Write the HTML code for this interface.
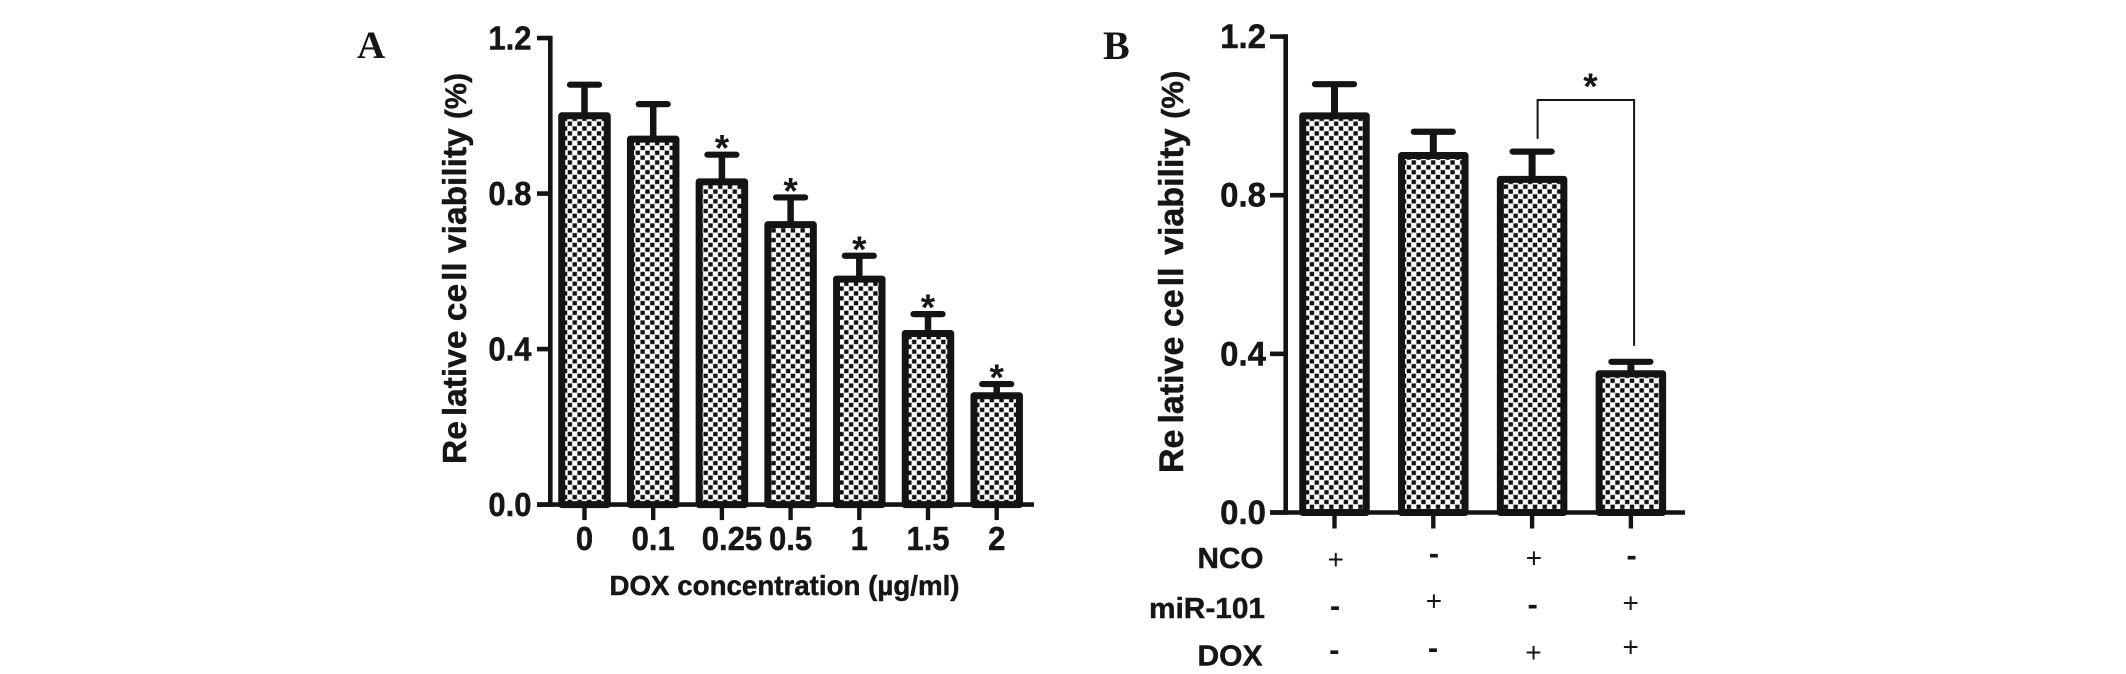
<!DOCTYPE html>
<html lang="en">
<head>
<meta charset="utf-8">
<title>Relative cell viability charts</title>
<style>
html,body{margin:0;padding:0;background:#fff;width:2126px;height:674px;overflow:hidden}
svg{display:block;filter:blur(.35px)}
text{font-family:"Liberation Sans",sans-serif;fill:#161616}
.b{font-weight:700}
.heavy{font-weight:700;stroke:#161616;stroke-width:.45px}
</style>
</head>
<body>
<svg id="figure" xmlns="http://www.w3.org/2000/svg" width="2126" height="674" viewBox="0 0 2126 674">
  <defs>
    <pattern id="checker" patternUnits="userSpaceOnUse" width="9.7" height="9.7">
      <rect width="9.7" height="9.7" fill="#fff"/>
      <rect x="0.25" y="0.25" width="4.35" height="4.35" fill="#111"/>
      <rect x="5.1" y="5.1" width="4.35" height="4.35" fill="#111"/>
    </pattern>
  </defs>
  <rect width="2126" height="674" fill="#fff"/>
  <text x="357" y="58" style="font-family:'Liberation Serif',serif;font-weight:700;font-size:39px">A</text>
  <text x="1103" y="59" style="font-family:'Liberation Serif',serif;font-weight:700;font-size:40px">B</text>
  <g id="panelA"></g>
  <g id="panelB"></g>

  <text class="heavy" x="609.5" y="595" font-size="27.5" textLength="350" lengthAdjust="spacingAndGlyphs">DOX concentration (µg/ml)</text>
  <text class="heavy" transform="translate(466,464) rotate(-90)" font-size="33.5">Re<tspan dx="5">lative</tspan> ce<tspan dx="3">ll</tspan> viability <tspan font-size="29.5">(%)</tspan></text>
  <text class="heavy" transform="translate(1183,473) rotate(-90)" font-size="34">Re<tspan dx="6">lative</tspan> ce<tspan dx="3">ll</tspan><tspan dx="3"> viability</tspan> <tspan font-size="31">(%)</tspan></text>

  <g>
    <text class="heavy" x="1197.5" y="568" font-size="29" textLength="66" lengthAdjust="spacingAndGlyphs">NCO</text>
    <text class="heavy" x="1149" y="618" font-size="29" textLength="116" lengthAdjust="spacingAndGlyphs">miR-101</text>
    <text class="heavy" x="1197.5" y="665.5" font-size="29" textLength="65" lengthAdjust="spacingAndGlyphs">DOX</text>
  </g>
  <g text-anchor="middle">
    <text x="1335.8" y="569.1" font-size="28" fill="#333">+</text>
    <text class="b" x="1433.9" y="563.6" font-size="31">-</text>
    <text x="1533.9" y="567.3" font-size="28" fill="#333">+</text>
    <text class="b" x="1631.5" y="565.3" font-size="31">-</text>
    <text class="b" x="1335" y="616" font-size="31">-</text>
    <text x="1433.9" y="610.3" font-size="28" fill="#333">+</text>
    <text class="b" x="1532.7" y="614.7" font-size="31">-</text>
    <text x="1630.7" y="612.5" font-size="28" fill="#333">+</text>
    <text class="b" x="1334.3" y="659.9" font-size="31">-</text>
    <text class="b" x="1433.1" y="658.2" font-size="31">-</text>
    <text x="1533.5" y="661.9" font-size="28" fill="#333">+</text>
    <text x="1630.7" y="656.3" font-size="28" fill="#333">+</text>
  </g>
</svg>
<script>
const yTickValues = [0, 0.4, 0.8, 1.2];
const yTickLabels = ['0.0', '0.4', '0.8', '1.2'];

const categoriesA = ['0', '0.1', '0.25', '0.5', '1', '1.5', '2'];
const valuesA = [1.0, 0.94, 0.83, 0.72, 0.58, 0.44, 0.28];
const errorTopsA = [1.08, 1.03, 0.90, 0.79, 0.64, 0.49, 0.31];
const significantA = [false, false, true, true, true, true, true];

const categoriesB = ['group-1', 'group-2', 'group-3', 'group-4'];
const valuesB = [1.0, 0.90, 0.84, 0.35];
const errorTopsB = [1.08, 0.96, 0.91, 0.38];
const bracketTopB = 1.04;
const bracketLeftEndB = 0.942;
const bracketRightEndB = 0.42;

const NS = 'http://www.w3.org/2000/svg';
const INK = '#141414';

function make(parent, tag, attrs, text) {
  const el = document.createElementNS(NS, tag);
  for (const k in attrs) el.setAttribute(k, attrs[k]);
  if (text !== undefined) el.textContent = text;
  parent.appendChild(el);
  return el;
}

function drawPanel(cfg) {
  const g = document.getElementById(cfg.id);
  const x = i => cfg.x0 + i * cfg.step;
  const y = v => cfg.y0 - v * cfg.unit;

  cfg.values.forEach((v, i) => {
    const stem = make(g, 'line', {x1: x(i), x2: x(i), y1: y(v), y2: y(cfg.errs[i]), stroke: INK, 'stroke-width': cfg.stem});
    
    
    const cap = make(g, 'line', {x1: x(i) - cfg.cap / 2, x2: x(i) + cfg.cap / 2, y1: y(cfg.errs[i]), y2: y(cfg.errs[i]), stroke: INK, 'stroke-width': 6.2, 'stroke-linecap': 'round'});
    
    
    const bar = make(g, 'rect', {x: x(i) - cfg.bar / 2, y: y(v), width: cfg.bar, height: y(0) - y(v), fill: 'url(#checker)', stroke: INK, 'stroke-width': cfg.border, 'stroke-linejoin': 'round'});
    
    
  });

  const yAxis = make(g, 'line', {x1: cfg.axisX, x2: cfg.axisX, y1: y(1.2) - 2.3, y2: y(0) + 2.3, stroke: INK, 'stroke-width': 4.6});
  
  
  const xAxis = make(g, 'line', {x1: cfg.tickLeft, x2: cfg.axisEnd, y1: y(0), y2: y(0), stroke: INK, 'stroke-width': 4.6});
  
  

  yTickValues.forEach((t, i) => {
    const tick = make(g, 'line', {x1: cfg.tickLeft, x2: cfg.axisX, y1: y(t), y2: y(t), stroke: INK, 'stroke-width': 4.6});
    
    
    const label = make(g, 'text', {transform: 'translate(' + cfg.labelRight + ',' + (y(t) + 11.5) + ') scale(' + cfg.labelSquash + ',1)', 'text-anchor': 'end', 'font-size': cfg.font, 'class': 'heavy'}, yTickLabels[i]);
    
    
  });

  cfg.values.forEach((v, i) => {
    const tick = make(g, 'line', {x1: x(i), x2: x(i), y1: y(0), y2: y(0) + cfg.tickDown, stroke: INK, 'stroke-width': 4.4});
    
    
  });
  return {g, x, y};
}

const a = drawPanel({id: 'panelA', values: valuesA, errs: errorTopsA, x0: 584.5, step: 68.7, y0: 504.6, unit: 388.8, bar: 45.5, border: 7, stem: 6.5, cap: 29, axisX: 550.3, tickLeft: 537, axisEnd: 1034, labelRight: 531.5, font: 33, labelSquash: 0.94, tickDown: 15.5});

const crowdedLabel = '0.25';
const crowdedLabelNudge = 10;

categoriesA.forEach((c, i) => {
  const lx = a.x(i) + (c === crowdedLabel ? crowdedLabelNudge : 0);
  const label = make(a.g, 'text', {transform: 'translate(' + lx + ',550) scale(0.94,1)', 'text-anchor': 'middle', 'font-size': 33, 'class': 'heavy'}, c);
  
  
  if (significantA[i]) {
    const star = make(a.g, 'text', {x: a.x(i), y: a.y(errorTopsA[i]) - 15 + 21, 'text-anchor': 'middle', 'font-size': 37, 'class': 'b'}, '*');
    
    
  }
});

const b = drawPanel({id: 'panelB', values: valuesB, errs: errorTopsB, x0: 1334.5, step: 98.8, y0: 512.5, unit: 396.6, bar: 63.5, border: 7, stem: 7, cap: 39, axisX: 1285.7, tickLeft: 1270, axisEnd: 1685, labelRight: 1266, font: 34, labelSquash: 0.97, tickDown: 16});

const bracket = make(b.g, 'path', {
  d: 'M' + (b.x(2) + 5.5) + ' ' + b.y(bracketLeftEndB) + 'V' + b.y(bracketTopB) + 'H' + (b.x(3) + 3.2) + 'V' + b.y(bracketRightEndB),
  fill: 'none', stroke: INK, 'stroke-width': 2
});



const bracketStar = make(b.g, 'text', {x: (b.x(2) + b.x(3)) / 2 + 9, y: b.y(bracketTopB) - 22 + 21, 'text-anchor': 'middle', 'font-size': 37, 'class': 'b'}, '*');


</script>
</body>
</html>
